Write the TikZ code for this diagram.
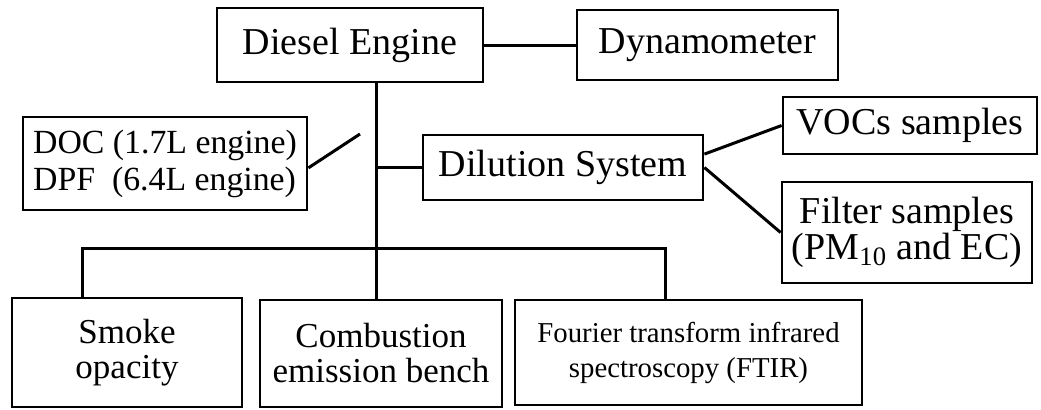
\documentclass[tikz,border=0pt]{standalone}
\usepackage{fontspec}
\setmainfont{Liberation Serif}
\usepackage{tikz}
\usetikzlibrary{positioning}

\begin{document}
\begin{tikzpicture}[x=0.5pt,y=-0.5pt,
  box/.style={rectangle,draw,line width=1.4pt,inner sep=0pt,align=center,
              font=\fontsize{19}{21}\selectfont},
  small/.style={font=\fontsize{17.5}{17.5}\selectfont},
  tiny/.style={font=\fontsize{14.4}{17.5}\selectfont},
  wire/.style={line width=1.5pt}]
 \useasboundingbox (0,0) rectangle (1041,409);
 \node [box, minimum width=133pt, minimum height=37pt] (Engine) at (350,45) {Diesel Engine};
 \node [box, minimum width=130.5pt, minimum height=35pt] (Dyno) at (707.5,45) {Dynamometer};
 \node [box, minimum width=142pt, minimum height=46.5pt, align=left,
        font=\fontsize{16.9}{18.5}\selectfont] (Aftertreat) at (165,163.5)
       {DOC (1.7L engine)\\DPF\ \ (6.4L engine)};
 \node [box, minimum width=140pt, minimum height=32.5pt] (Dilution) at (563,167.5) {Dilution System};
 \node [box, minimum width=127pt, minimum height=28.5pt] (VOCs) at (910,125.5) {VOCs samples};
 \node [box, minimum width=125pt, minimum height=50.5pt,
        font=\fontsize{19}{16.5}\selectfont] (Filter) at (907,232.5)
       {Filter samples\\(PM\textsubscript{10} and EC)};
 \node [box, small, minimum width=115pt, minimum height=54.5pt] (Smoke) at (127,352.5) {Smoke\\opacity};
 \node [box, small, minimum width=121pt, minimum height=53.5pt] (Bench) at (381,353.5) {Combustion\\emission bench};
 \node [box, tiny, minimum width=173.5pt, minimum height=52.5pt] (FTIR) at (688.5,352.5)
       {Fourier transform infrared\\spectroscopy (FTIR)};
 \coordinate (trunk) at (376,0);
 \coordinate (slash) at (360,134);
 \coordinate (busL) at (82,248);
 \coordinate (busR) at (665,248);
 \draw [wire] (Engine) -- (Dyno);
 \draw [wire] (Engine.south -| trunk) -- (Bench.north -| trunk);
 \draw [wire] (Dilution.west -| trunk) -- (Dilution.west);
 \draw [wire] ([yshift=-2.2pt]Aftertreat.east) -- (slash);
 \draw [wire] ([yshift=6.7pt]Dilution.east) -- (VOCs.west);
 \draw [wire] (Dilution.east) -- (Filter.west);
 \draw [wire] (Smoke.north -| busL) -- (busL) -- (busR) -- (FTIR.north -| busR);
\end{tikzpicture}
\end{document}
